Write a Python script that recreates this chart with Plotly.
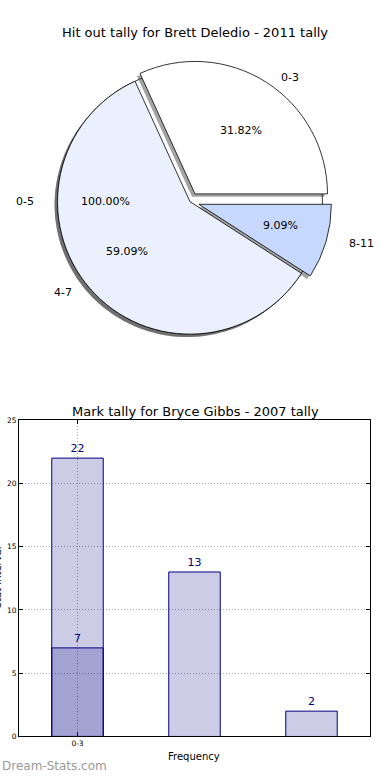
import math
import plotly.graph_objects as go

W, H = 390, 780

# ---------------- data ----------------
pie_title = "Hit out tally for Brett Deledio - 2011 tally"
pie_labels = ["0-3", "4-7", "8-11"]
pie_values = [7, 13, 2]
pie_colors = ["#FFFFFF", "#EAF0FD", "#C6D8FE"]
pie_pull = [0.07, 0.0, 0.07]
base_labels = ["0-5"]
base_values = [22]
base_colors = ["#FFFFFF"]

bar_title = "Mark tally for Bryce Gibbs - 2007 tally"
bar_x = [0, 1, 2]
bar_values = [22, 13, 2]
overlay_x = [0]
overlay_values = [7]
xtick_vals = [0]
xtick_text = ["0-3"]
ytick_vals = [0, 5, 10, 15, 20, 25]
x_title = "Frequency"
y_title = "Stat Interval"
watermark = "Dream-Stats.com"

FONT = "DejaVu Sans"
NAVY = "#000080"


def fx(px):
    return px / W


def fy(py):
    return 1 - py / H


# ---------------- pie geometry ----------------
CX, CY = 190, 200
R = 134
RX, RY = 140, 128  # text placement radii
SH = 3  # shadow offset px

fig = go.Figure()


def pie_domain(cx, cy, half):
    return dict(x=[fx(cx - half), fx(cx + half)], y=[fy(cy + half), fy(cy - half)])


def add_pie(labels, values, colors, pull, shadow):
    half = R * (1 + max(pull))
    cx, cy = (CX - SH, CY + SH) if shadow else (CX, CY)
    # first slice starts at 3 o'clock and the slices run counterclockwise
    rot = 90 - 360.0 * values[0] / sum(values)
    fig.add_trace(go.Pie(
        labels=labels, values=values, sort=False, direction="counterclockwise",
        rotation=rot, pull=pull, textinfo="none", hoverinfo="skip",
        marker=dict(colors=(["rgba(50,50,50,0.45)"] * len(values)) if shadow else colors,
                    line=dict(color="rgba(0,0,0,0)" if shadow else "#000000",
                              width=0 if shadow else 0.8)),
        domain=pie_domain(cx, cy, half), showlegend=False,
    ))


add_pie(base_labels, base_values, base_colors, [0.0], True)
add_pie(base_labels, base_values, base_colors, [0.0], False)
add_pie(pie_labels, pie_values, pie_colors, pie_pull, True)
add_pie(pie_labels, pie_values, pie_colors, pie_pull, False)

annotations = []


def pie_texts(labels, values, pull):
    total = sum(values)
    start = 0.0
    for lab, v, p in zip(labels, values, pull):
        span = 360.0 * v / total
        mid = math.radians(start + span / 2)
        c, s = math.cos(mid), math.sin(mid)
        ox, oy = p * RX * c, p * RY * s
        lx, ly = CX + ox + 1.1 * RX * c, CY - oy - 1.1 * RY * s
        annotations.append(dict(
            x=fx(lx), y=fy(ly), xref="paper", yref="paper", text=lab, showarrow=False,
            xanchor="left" if c > 0 else "right", yanchor="middle",
            font=dict(family=FONT, size=11, color="#000000")))
        px_, py_ = CX + ox + 0.6 * RX * c, CY - oy - 0.6 * RY * s
        annotations.append(dict(
            x=fx(px_), y=fy(py_), xref="paper", yref="paper",
            text="%.2f%%" % (100.0 * v / total), showarrow=False,
            xanchor="center", yanchor="middle",
            font=dict(family=FONT, size=11, color="#000000")))
        start += span


pie_texts(base_labels, base_values, [0.0])
pie_texts(pie_labels, pie_values, pie_pull)

# ---------------- bars ----------------
BAR_W = 0.44
fig.add_trace(go.Bar(
    x=bar_x, y=bar_values, width=BAR_W, text=[str(v) for v in bar_values],
    textposition="outside", cliponaxis=False, constraintext="none",
    textfont=dict(family=FONT, size=11, color=NAVY),
    marker=dict(color="rgba(0,0,128,0.2)", line=dict(color=NAVY, width=1)),
    hoverinfo="skip", showlegend=False, xaxis="x", yaxis="y"))
fig.add_trace(go.Bar(
    x=overlay_x, y=overlay_values, width=BAR_W, text=[str(v) for v in overlay_values],
    textposition="outside", cliponaxis=False, constraintext="none",
    textfont=dict(family=FONT, size=11, color=NAVY),
    marker=dict(color="rgba(0,0,128,0.2)", line=dict(color=NAVY, width=1)),
    hoverinfo="skip", showlegend=False, xaxis="x", yaxis="y"))

GRID = "#a8a8a8"
axis_common = dict(
    showline=True, linecolor="#000000", linewidth=1, mirror="ticks",
    ticks="inside", ticklen=4, tickcolor="#000000", tickwidth=1,
    showgrid=True, gridcolor=GRID, gridwidth=1, griddash="1px,2px",
    zeroline=False, tickfont=dict(family=FONT, size=7.5, color="#000000"),
)

fig.update_layout(
    width=W, height=H, margin=dict(l=0, r=0, t=0, b=0),
    paper_bgcolor="white", plot_bgcolor="white", showlegend=False,
    barmode="overlay",
    xaxis=dict(domain=[fx(19), fx(370)], range=[-0.5, 2.5], tickvals=xtick_vals,
               ticktext=xtick_text, anchor="y", **axis_common),
    yaxis=dict(domain=[fy(741), fy(421)], range=[0, 25], tickvals=ytick_vals,
               anchor="x", **axis_common),
)

annotations += [
    dict(x=fx(195), y=fy(29), xref="paper", yref="paper", text=pie_title, showarrow=False,
         xanchor="center", yanchor="middle", font=dict(family=FONT, size=13, color="#000000")),
    dict(x=fx(195), y=fy(412), xref="paper", yref="paper", text=bar_title, showarrow=False,
         xanchor="center", yanchor="middle", font=dict(family=FONT, size=13, color="#000000")),
    dict(x=fx(194), y=fy(761), xref="paper", yref="paper", text=x_title, showarrow=False,
         xanchor="center", yanchor="middle", font=dict(family=FONT, size=10, color="#000000")),
    dict(x=fx(-3), y=fy(580), xref="paper", yref="paper", text=y_title, showarrow=False,
         textangle=-90, xanchor="center", yanchor="middle",
         font=dict(family=FONT, size=10, color="#000000")),
    dict(x=fx(0), y=fy(771), xref="paper", yref="paper", text=watermark, showarrow=False,
         xanchor="left", yanchor="middle", font=dict(family=FONT, size=12, color="#9a9a9a")),
]
fig.update_layout(annotations=annotations)

fig.write_html(
    "out.html",
    config={"displayModeBar": False},
    post_script="document.body.style.margin='0';document.body.style.overflow='hidden';",
)
